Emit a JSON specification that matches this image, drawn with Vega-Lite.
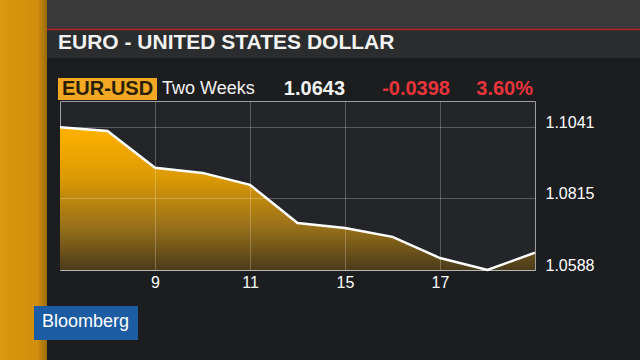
{
  "$schema": "https://vega.github.io/schema/vega-lite/v6.json",
  "width": 475,
  "height": 169,
  "autosize": {"type": "none"},
  "padding": {"left": 60, "top": 101, "right": 105, "bottom": 90},
  "background": "#1c1d1f",
  "config": {
    "view": {"fill": "#232528", "stroke": "#a0a0a0", "strokeWidth": 1},
    "font": "Liberation Sans"
  },
  "resolve": {"axis": {"x": "independent", "y": "independent"}},
  "datasets": {
    "eurusd": [
      {"day": "7", "rate": 1.1041},
      {"day": "8", "rate": 1.1029},
      {"day": "9", "rate": 1.0912},
      {"day": "10", "rate": 1.0896},
      {"day": "11", "rate": 1.0858},
      {"day": "14", "rate": 1.0737},
      {"day": "15", "rate": 1.0721},
      {"day": "16", "rate": 1.0693},
      {"day": "17", "rate": 1.0626},
      {"day": "18", "rate": 1.0588},
      {"day": "21", "rate": 1.0643}
    ]
  },
  "layer": [
    {
      "data": {"name": "eurusd"},
      "mark": {"type": "area", "opacity": 1,
        "fill": {"gradient": "linear", "x1": 0, "y1": 0, "x2": 0, "y2": 1, "stops": [{"offset": 0, "color": "#ffb200"}, {"offset": 0.35, "color": "#dc9a04"}, {"offset": 0.7, "color": "#98701a"}, {"offset": 1, "color": "#4a3b1a"}]}},
      "encoding": {
        "x": {"field": "day", "type": "ordinal",
          "scale": {"type": "point", "padding": 0, "domain": ["7", "8", "9", "10", "11", "14", "15", "16", "17", "18", "21"]},
          "axis": {"title": null, "values": ["9", "11", "15", "17"], "grid": true, "gridColor": "#ffffff", "gridOpacity": 0.24, "ticks": false, "domain": false, "labelColor": "#ffffff", "labelFontSize": 16, "labelPadding": 4, "labelAngle": 0, "zindex": 1}},
        "y": {"field": "rate", "type": "quantitative",
          "scale": {"domain": [1.0588, 1.1124], "nice": false, "zero": false},
          "axis": {"title": null, "orient": "right", "values": [1.0588, 1.0815, 1.1041], "format": ".4f", "grid": true, "gridColor": "#ffffff", "gridOpacity": 0.24, "ticks": false, "domain": false, "labelColor": "#ffffff", "labelFontSize": 16, "labelPadding": 10, "labelOffset": -5, "zindex": 1}},
        "y2": {"datum": 1.0588}
      }
    },
    {
      "data": {"name": "eurusd"},
      "mark": {"type": "line", "color": "#ffffff", "strokeWidth": 2.5},
      "encoding": {
        "x": {"field": "day", "type": "ordinal", "axis": null},
        "y": {"field": "rate", "type": "quantitative", "axis": null}
      }
    },
    {
      "data": {"values": [{}]},
      "mark": {"type": "point", "shape": "M-0.6,-2.7H-0.13V0.9H-0.6Z", "size": 40000, "filled": true, "opacity": 1, "strokeWidth": 0,
        "fill": {"gradient": "linear", "x1": 0, "y1": 0, "x2": 1, "y2": 0, "stops": [{"offset": 0, "color": "#da980f"}, {"offset": 0.8, "color": "#d08e0c"}, {"offset": 1, "color": "#9c6b08"}]}},
      "encoding": {"x": {"datum": "7", "type": "ordinal", "axis": null}, "y": {"datum": 1.0588, "type": "quantitative", "axis": null}}
    },
    {
      "data": {"values": [{}]},
      "mark": {"type": "point", "shape": "M-0.13,-2.7H5.8V-2.415H-0.13Z", "size": 40000, "filled": true, "opacity": 1, "strokeWidth": 0, "fill": "#3a3a3b"},
      "encoding": {"x": {"datum": "7", "type": "ordinal", "axis": null}, "y": {"datum": 1.0588, "type": "quantitative", "axis": null}}
    },
    {
      "data": {"values": [{}]},
      "mark": {"type": "point", "shape": "M-0.13,-2.415H5.8V-2.395H-0.13Z", "size": 40000, "filled": true, "opacity": 1, "strokeWidth": 0, "fill": "#a8292b"},
      "encoding": {"x": {"datum": "7", "type": "ordinal", "axis": null}, "y": {"datum": 1.0588, "type": "quantitative", "axis": null}}
    },
    {
      "data": {"values": [{}]},
      "mark": {"type": "point", "shape": "M-0.13,-2.395H5.8V-2.12H-0.13Z", "size": 40000, "filled": true, "opacity": 1, "strokeWidth": 0, "fill": "#2b2c2e"},
      "encoding": {"x": {"datum": "7", "type": "ordinal", "axis": null}, "y": {"datum": 1.0588, "type": "quantitative", "axis": null}}
    },
    {
      "data": {"values": [{}]},
      "mark": {"type": "point", "shape": "M-0.02,-1.92H0.97V-1.70H-0.02Z", "size": 40000, "filled": true, "opacity": 1, "strokeWidth": 0, "fill": "#f2a822"},
      "encoding": {"x": {"datum": "7", "type": "ordinal", "axis": null}, "y": {"datum": 1.0588, "type": "quantitative", "axis": null}}
    },
    {
      "data": {"values": [{}]},
      "mark": {"type": "point", "shape": "M-0.26,0.36H0.78V0.70H-0.26Z", "size": 40000, "filled": true, "opacity": 1, "strokeWidth": 0, "fill": "#1b5ca3"},
      "encoding": {"x": {"datum": "7", "type": "ordinal", "axis": null}, "y": {"datum": 1.0588, "type": "quantitative", "axis": null}}
    },
    {
      "data": {"values": [{}]},
      "mark": {"type": "text", "text": "EURO - UNITED STATES DOLLAR", "align": "left", "baseline": "middle", "dx": -2, "fontSize": 21, "fontWeight": "bold", "color": "#f2f2f2"},
      "encoding": {"x": {"datum": "7", "type": "ordinal", "axis": null}, "y": {"datum": 1.1308, "type": "quantitative", "axis": null}}
    },
    {
      "data": {"values": [{}]},
      "mark": {"type": "text", "text": "EUR-USD", "align": "left", "baseline": "middle", "dx": 2, "fontSize": 20, "fontWeight": "bold", "color": "#2a1e05"},
      "encoding": {"x": {"datum": "7", "type": "ordinal", "axis": null}, "y": {"datum": 1.1162, "type": "quantitative", "axis": null}}
    },
    {
      "data": {"values": [{}]},
      "mark": {"type": "text", "text": "Two Weeks", "align": "left", "baseline": "middle", "dx": 7, "fontSize": 18, "color": "#f2f2f2"},
      "encoding": {"x": {"datum": "9", "type": "ordinal", "axis": null}, "y": {"datum": 1.1162, "type": "quantitative", "axis": null}}
    },
    {
      "data": {"values": [{}]},
      "mark": {"type": "text", "text": "1.0643", "align": "right", "baseline": "middle", "dx": 0, "fontSize": 20, "fontWeight": "bold", "color": "#f2f2f2"},
      "encoding": {"x": {"datum": "15", "type": "ordinal", "axis": null}, "y": {"datum": 1.1162, "type": "quantitative", "axis": null}}
    },
    {
      "data": {"values": [{}]},
      "mark": {"type": "text", "text": "-0.0398", "align": "right", "baseline": "middle", "dx": 10, "fontSize": 20, "fontWeight": "bold", "color": "#e8343b"},
      "encoding": {"x": {"datum": "17", "type": "ordinal", "axis": null}, "y": {"datum": 1.1162, "type": "quantitative", "axis": null}}
    },
    {
      "data": {"values": [{}]},
      "mark": {"type": "text", "text": "3.60%", "align": "right", "baseline": "middle", "dx": -2, "fontSize": 20, "fontWeight": "bold", "color": "#e8343b"},
      "encoding": {"x": {"datum": "21", "type": "ordinal", "axis": null}, "y": {"datum": 1.1162, "type": "quantitative", "axis": null}}
    },
    {
      "data": {"values": [{}]},
      "mark": {"type": "text", "text": "Bloomberg", "align": "left", "baseline": "middle", "dx": -18, "fontSize": 18, "color": "#ffffff"},
      "encoding": {"x": {"datum": "7", "type": "ordinal", "axis": null}, "y": {"datum": 1.0423, "type": "quantitative", "axis": null}}
    }
  ]
}
